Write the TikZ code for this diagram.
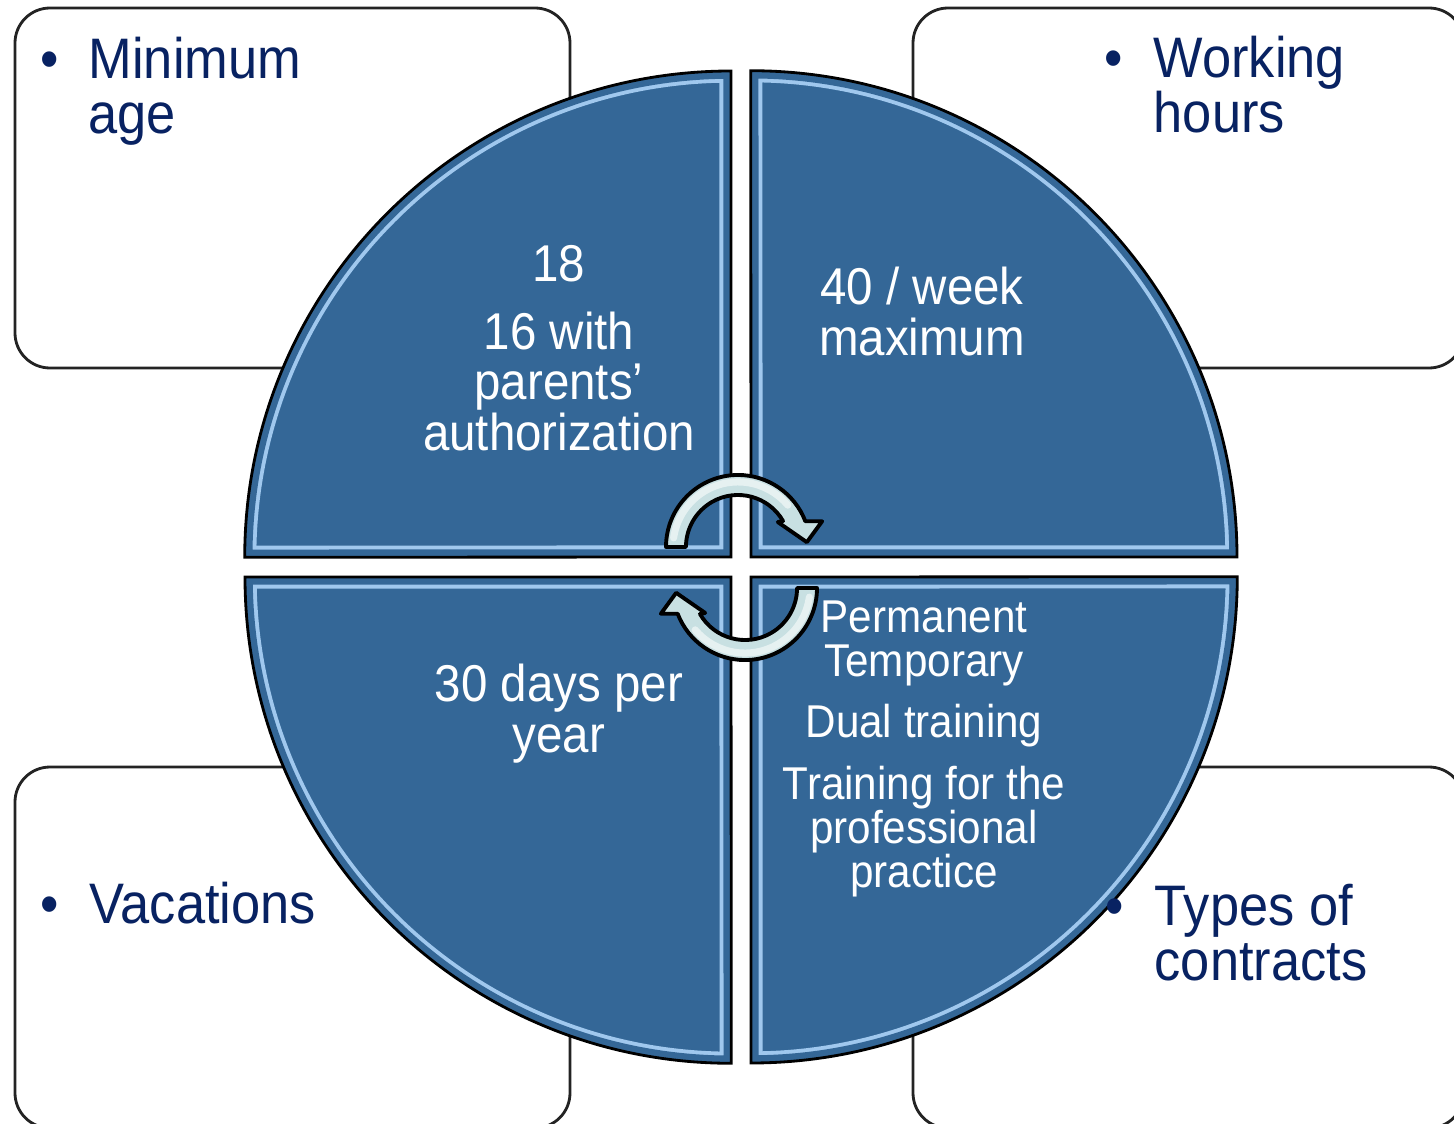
\documentclass[tikz,border=0pt]{standalone}
\usepackage{fontspec}
\setmainfont{Liberation Sans}
\definecolor{quadblue}{RGB}{52,103,151}
\definecolor{rimlight}{RGB}{160,200,238}
\definecolor{navytext}{RGB}{8,34,98}
\definecolor{arrowcyan}{RGB}{200,224,226}
\definecolor{boxline}{RGB}{35,35,35}
\begin{document}
\begin{tikzpicture}[x=0.01cm, y=0.01cm,
    infobox/.style={draw=boxline, line width=0.8pt, fill=white, rounded corners=0.35cm},
    boxtext/.style={font=\fontsize{14.9}{14.1}\selectfont, text=navytext, align=left, anchor=base west, inner sep=0pt, yscale=1.09},
    quadtext/.style={font=\fontsize{13.5}{13.05}\selectfont, text=white, align=center, anchor=base, inner sep=0pt, yscale=1.09},
    smalltext/.style={quadtext, font=\fontsize{12}{11.4}\selectfont},
    turnarrow/.style={fill=arrowcyan, draw=black, line width=1.1pt, line join=round}]
    \useasboundingbox (0,0) rectangle (1454,1123);
    \clip (0,0) rectangle (1454,1123);

    % the four boxes behind the circle
    \draw[infobox] (15,755) rectangle (570,1115);
    \draw[infobox] (913,755) rectangle (1464,1115);
    \draw[infobox] (15,-5) rectangle (570,356);
    \draw[infobox] (913,-5) rectangle (1464,356);

    % quarters of the circle
    \foreach \cx/\cy/\a in {731/566/90, 751/566/0, 731/546/180, 751/546/270} {
        \begin{scope}
            \clip (\cx,\cy) -- ++(\a:486) arc[start angle=\a, delta angle=90, radius=4.86cm] -- cycle;
            \fill[quadblue] (\cx,\cy) -- ++(\a:486) arc[start angle=\a, delta angle=90, radius=4.86cm] -- cycle;
            \draw[rimlight, line width=6.6pt] (\cx,\cy) -- ++(\a:486) arc[start angle=\a, delta angle=90, radius=4.86cm] -- cycle;
            \draw[quadblue, line width=4.4pt] (\cx,\cy) -- ++(\a:486) arc[start angle=\a, delta angle=90, radius=4.86cm] -- cycle;
        \end{scope}
        \draw[black, line width=0.8pt] (\cx,\cy) -- ++(\a:486) arc[start angle=\a, delta angle=90, radius=4.86cm] -- cycle;
    }

    % texts in the boxes (placed at the baseline of their last line)
    \node (minage) at (40,990) [boxtext] {\makebox[0.48cm][l]{•}Minimum\\\hspace*{0.48cm}age};
    \node (workhours) at (1104,991) [boxtext] {\makebox[0.49cm][l]{•}Working\\\hspace*{0.49cm}hours};
    \node (vacations) at (40,200) [boxtext] {\makebox[0.49cm][l]{•}Vacations};
    \node (contracts) at (1105,143) [boxtext] {\makebox[0.49cm][l]{•}Types of\\\hspace*{0.49cm}contracts};

    % texts in the quarters
    \node (age18) at (559,673) [quadtext] {18\\[4.7pt]16 with\\parents’\\authorization};
    \node (week40) at (922,768) [quadtext] {40 / week\\maximum};
    \node (days30) at (559,371) [quadtext] {30 days per\\year};
    \node (types) at (924,236) [smalltext] {Permanent\\Temporary\\[4.7pt]Dual training\\[4.7pt]Training for the\\professional\\practice};

    % turning arrows in the middle
    \foreach \cx/\cy/\r in {738/576/0, 745/535/180} {
        \filldraw[turnarrow, shift={(\cx,\cy)}, rotate=\r] (180:72) arc[start angle=180, end angle=21, radius=0.72cm]
            -- (17:88) -- (4:69) -- (32:47) -- (30:52) arc[start angle=30, end angle=180, radius=0.52cm] -- cycle;
        \draw[white, opacity=0.55, line width=2pt, line cap=round, shift={(\cx,\cy)}, rotate=\r] (172:65) arc[start angle=172, end angle=40, radius=0.65cm];
    }
\end{tikzpicture}
\end{document}
